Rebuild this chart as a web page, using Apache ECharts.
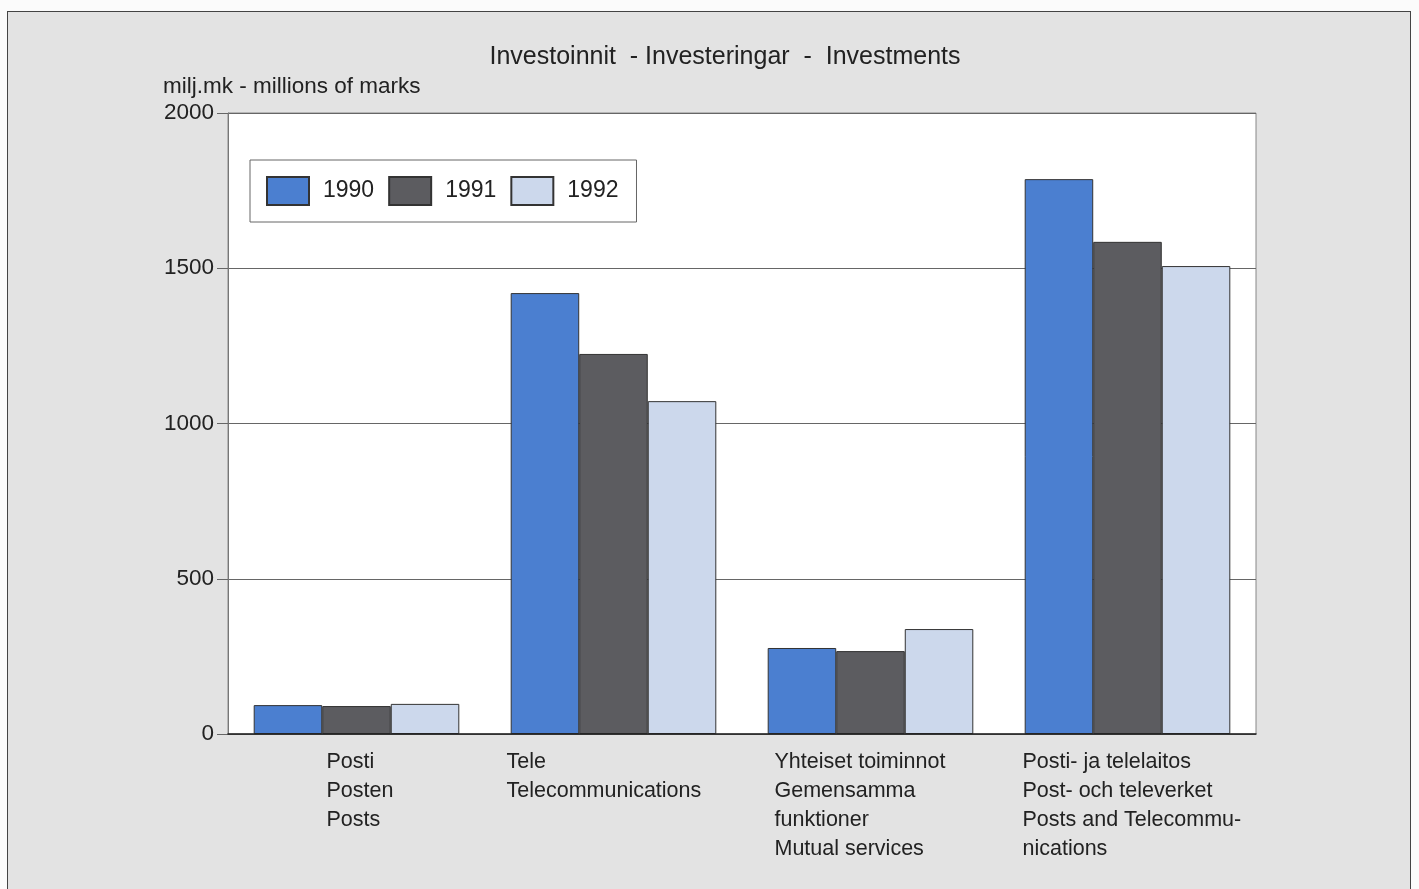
<!DOCTYPE html>
<html>
<head>
<meta charset="utf-8">
<script src="https://cdn.jsdelivr.net/npm/echarts@6/dist/echarts.min.js"></script>
<style>
html,body{margin:0;padding:0;background:#fbfbfb;}
#bg{position:absolute;left:7px;top:11px;width:1404px;height:900px;background:#e3e3e3;border:1px solid #444;box-sizing:border-box;}
#chart{position:absolute;left:0;top:0;width:1419px;height:889px;}
</style>
</head>
<body>
<div id="bg"></div>
<div id="chart"></div>
<script>
const categories = [
  'Posti\nPosten\nPosts',
  'Tele\nTelecommunications',
  'Yhteiset toiminnot\nGemensamma\nfunktioner\nMutual services',
  'Posti- ja telelaitos\nPost- och televerket\nPosts and Telecommu-\nnications'
];
const years = ['1990', '1991', '1992'];
const v1990 = [93, 1420, 277, 1787];
const v1991 = [90, 1224, 267, 1585];
const v1992 = [97, 1072, 338, 1507];
const yMin = 0, yMax = 2000, yStep = 500;
const titleText = 'Investoinnit  - Investeringar  -  Investments';
const unitText = 'milj.mk - millions of marks';

const REG = "'Liberation Sans', Arial, Helvetica, sans-serif";
const colors = ['#4b7fd0', '#5c5c60', '#ccd8ec'];
const labelOffsets = [-30, -107, -96, -105];

const chart = echarts.init(document.getElementById('chart'));
const seriesVals = [v1990, v1991, v1992];
chart.setOption({
  backgroundColor: 'transparent',
  animation: false,
  textStyle: { fontFamily: REG },
  title: [
    { text: titleText, left: 725, top: 45, textAlign: 'center', padding: 0,
      textStyle: { fontFamily: REG, fontSize: 25, fontWeight: 'normal', color: '#222' } },
    { text: unitText, left: 163, top: 75, padding: 0,
      textStyle: { fontFamily: REG, fontSize: 22.5, fontWeight: 'normal', color: '#222' } }
  ],
  legend: {
    left: 250, top: 160, orient: 'horizontal',
    padding: [16, 18, 16, 16],
    backgroundColor: '#ffffff', borderColor: '#666', borderWidth: 1,
    itemWidth: 42, itemHeight: 28, itemGap: 14,
    icon: 'rect',
    textStyle: { fontFamily: REG, fontSize: 23, color: '#222', padding: [0, 0, 0, 9] },
    data: years
  },
  grid: { left: 228, right: 163, top: 113, bottom: 155, show: true,
    backgroundColor: '#ffffff', borderColor: '#888', borderWidth: 1 },
  xAxis: {
    type: 'category', data: categories,
    axisLine: { show: true, lineStyle: { color: '#222', width: 1.5 } },
    axisTick: { show: false },
    axisLabel: { show: false },
    z: 10
  },
  yAxis: {
    type: 'value', min: yMin, max: yMax, interval: yStep,
    axisLine: { show: true, lineStyle: { color: '#777', width: 1 } },
    axisTick: { show: true, length: 11, lineStyle: { color: '#666' } },
    axisLabel: { fontFamily: REG, fontSize: 22.5, color: '#222', margin: 14,
      formatter: v => String(v) },
    splitLine: { show: true, lineStyle: { color: '#666', width: 1 } }
  },
  series: years.map((y, i) => ({
    name: y, type: 'bar', data: seriesVals[i],
    barGap: '0%', barCategoryGap: '20%',
    itemStyle: { color: colors[i], borderColor: '#333', borderWidth: 1 }
  }))
});

// category labels, positioned from the axis scale
const gr = categories.map((c, i) => {
  const px = chart.convertToPixel({ xAxisIndex: 0 }, i);
  const py = chart.convertToPixel({ yAxisIndex: 0 }, yMin);
  return {
    type: 'text', x: px + labelOffsets[i], y: py + 14,
    style: { text: c, fontFamily: REG, fontSize: 21.5, lineHeight: 29, fill: '#222',
      textAlign: 'left', textVerticalAlign: 'top' }
  };
});
chart.setOption({ graphic: gr });
</script>
</body>
</html>
